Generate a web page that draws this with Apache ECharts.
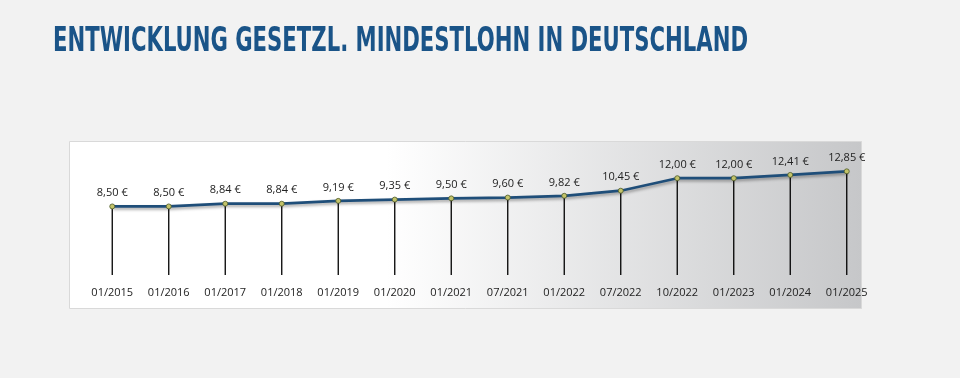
<!DOCTYPE html>
<html>
<head>
<meta charset="utf-8">
<script src="https://cdn.jsdelivr.net/npm/echarts@6/dist/echarts.min.js"></script>
<style>
html,body{margin:0;padding:0;background:#f2f2f2;}
#c{width:960px;height:378px;}
</style>
</head>
<body>
<div id="c"></div>
<script>
const titleText = 'ENTWICKLUNG GESETZL. MINDESTLOHN IN DEUTSCHLAND';
const categories = ['01/2015','01/2016','01/2017','01/2018','01/2019','01/2020','01/2021','07/2021','01/2022','07/2022','10/2022','01/2023','01/2024','01/2025'];
const wages = [8.50, 8.50, 8.84, 8.84, 9.19, 9.35, 9.50, 9.60, 9.82, 10.45, 12.00, 12.00, 12.41, 12.85];

const fmt = v => v.toFixed(2).replace('.', ',') + ' €';
const chart = echarts.init(document.getElementById('c'), null, {renderer: 'canvas'});
const font = '"Open Sans", "DejaVu Sans", sans-serif';
const titleFamily = '"Liberation Sans Narrow", "DejaVu Sans Condensed", sans-serif';
const titleSize = 33;

// measure title to fit width of reference (x 53 -> 748)
const cv = document.createElement('canvas').getContext('2d');
cv.font = 'bold ' + titleSize + 'px ' + titleFamily;
const tw = cv.measureText(titleText).width;
const sx = 695 / tw;

chart.setOption({
  backgroundColor: '#f2f2f2',
  animation: false,
  graphic: [
    {
      type: 'rect', z: -10, silent: true,
      shape: {x: 69.5, y: 141.5, width: 792, height: 167},
      style: {
        fill: new echarts.graphic.LinearGradient(0, 0, 1, 0, [
          {offset: 0, color: '#ffffff'},
          {offset: 0.4, color: '#ffffff'},
          {offset: 1, color: '#c6c7c9'}
        ]),
        stroke: '#d9d9d9', lineWidth: 1
      }
    },
    {
      type: 'text', z: 10, silent: true,
      x: 53, y: 42, scaleX: sx,
      style: {
        text: titleText,
        fill: '#1a5488',
        fontSize: titleSize, fontWeight: 'bold', fontFamily: titleFamily,
        verticalAlign: 'middle', align: 'left'
      }
    }
  ],
  grid: {left: 84, right: 85, top: 154, bottom: 103},
  xAxis: {
    type: 'category', data: categories, boundaryGap: true,
    axisLine: {show: false}, axisTick: {show: false},
    axisLabel: {color: '#222', fontFamily: font, fontSize: 11, margin: 12, interval: 0}
  },
  yAxis: {
    type: 'value', min: 0, max: 15, show: false, splitLine: {show: false}
  },
  series: [
    {
      type: 'bar', data: wages, barWidth: 1.3, z: 1,
      itemStyle: {color: '#000000'}, silent: true
    },
    {
      type: 'line', data: wages, z: 3,
      symbol: 'circle', symbolSize: 5,
      lineStyle: {color: '#1f4e79', width: 2.7, shadowColor: 'rgba(0,0,0,0.35)', shadowBlur: 3, shadowOffsetX: 1, shadowOffsetY: 2},
      itemStyle: {color: '#c3c36a', borderColor: '#4d5a2a', borderWidth: 0.8},
      label: {show: true, position: 'top', distance: 5, color: '#222', fontFamily: font, fontSize: 11, formatter: p => fmt(p.value)}
    }
  ]
});
</script>
</body>
</html>
